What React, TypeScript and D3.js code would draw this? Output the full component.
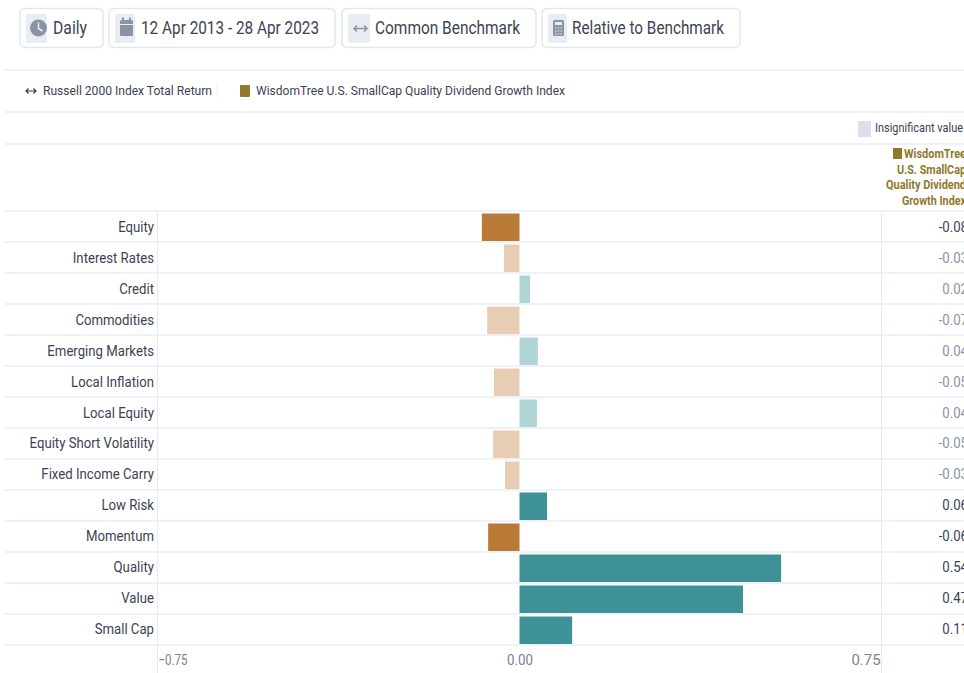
import React from "react";
import * as d3 from "d3";

const categories = ["Equity","Interest Rates","Credit","Commodities","Emerging Markets","Local Inflation","Local Equity","Equity Short Volatility","Fixed Income Carry","Low Risk","Momentum","Quality","Value","Small Cap"];
const barValues = [-0.078,-0.032,0.022,-0.067,0.038,-0.053,0.036,-0.055,-0.03,0.057,-0.065,0.542,0.463,0.109];
const valueLabels = ["-0.08","-0.03","0.02","-0.07","0.04","-0.05","0.04","-0.05","-0.03","0.06","-0.06","0.54","0.47","0.11"];
const significant = [true,false,false,false,false,false,false,false,false,true,true,true,true,true];
const axisTicks = [-0.75,0,0.75];
const toolbarLabels = ["Daily","12 Apr 2013 - 28 Apr 2023","Common Benchmark","Relative to Benchmark"];
const legendBenchmark = "Russell 2000 Index Total Return";
const legendIndex = "WisdomTree U.S. SmallCap Quality Dividend Growth Index";
const headerLines = ["WisdomTree","U.S. SmallCap","Quality Dividend","Growth Index"];

const FONT = "Roboto, sans-serif";
const LINE = "#eef1f7";
const GRID = "#e6eaf3";
const TEXT = "#3c4352";
const ICON_BG = "#e8ecf3";
const ICON = "#8b93a5";
const OLIVE = "#8d7a2c";
const SQUEEZE = 0.85;

function T({x,y,w,size,fill=TEXT,anchor="start",weight=400,children}:any){
  return <text x={x} y={y} textLength={w} lengthAdjust="spacingAndGlyphs" fontSize={size} fill={fill} textAnchor={anchor} fontWeight={weight} fontFamily={FONT}>{children}</text>;
}

function Chip({x,w,iconW,label,textX,textW,icon}:any){
  return <g>
    <rect x={x} y={8.5} width={w} height={39} rx={5} fill="#fff" stroke="#e1e6ef" strokeWidth={1.5}/>
    <rect x={x+6} y={14} width={iconW} height={29} rx={2} fill={ICON_BG}/>
    {icon}
    <T x={textX} y={34} w={textW} size={19}>{label}</T>
  </g>;
}

export default function App(){
  const x = d3.scaleLinear().domain([-0.75,0.75]).range([157.5,881.5]);
  const y = d3.scaleBand<string>().domain(categories).range([211,645]);
  const barPad = 2.5;
  const zero = x(0);
  const color = (v:number,s:boolean)=> s ? (v<0 ? "#b97a38" : "#3e9196") : (v<0 ? "#e8cdb5" : "#afd4d5");
  const rowLines = [...categories.map(c=>y(c)!),645];
  return (
    <svg width={964} height={673} viewBox="0 0 964 673" style={{position:"absolute",left:0,top:0,background:"#fff"}}>
      <Chip x={20} w={83} iconW={21} label={toolbarLabels[0]} textX={53} textW={34}
        icon={<g><circle cx={38.5} cy={28} r={8.5} fill={ICON}/><path d="M38.5 22.5V28.5L42.5 31" fill="none" stroke="#e8ecf3" strokeWidth={1.5}/></g>}/>
      <Chip x={109} w={226} iconW={20} label={toolbarLabels[1]} textX={141} textW={178}
        icon={<g><rect x={120} y={20} width={13} height={16} rx={1.5} fill={ICON}/><line x1={120} x2={133} y1={24.5} y2={24.5} stroke="#e8ecf3"/><line x1={123} x2={123} y1={17.5} y2={21} stroke={ICON} strokeWidth={2}/><line x1={130} x2={130} y1={17.5} y2={21} stroke={ICON} strokeWidth={2}/></g>}/>
      <Chip x={342} w={194} iconW={22} label={toolbarLabels[2]} textX={375} textW={145}
        icon={<path d="M354 28.5H367M357 25.5L354 28.5L357 31.5M364 25.5L367 28.5L364 31.5" fill="none" stroke={ICON} strokeWidth={1.5}/>}/>
      <Chip x={542} w={198} iconW={19} label={toolbarLabels[3]} textX={572} textW={152}
        icon={<g><rect x={553} y={20} width={11} height={16} rx={1.5} fill={ICON}/><rect x={555} y={22} width={7} height={3} fill="#e8ecf3"/><path d="M555 28H562M555 31H562M555 34H562" stroke="#e8ecf3" strokeDasharray="1.5 1.2"/></g>}/>

      <line x1={5} x2={964} y1={70} y2={70} stroke={LINE} strokeWidth={2}/>
      <path d="M26 91H36M28.5 88.5L26 91L28.5 93.5M33.5 88.5L36 91L33.5 93.5" fill="none" stroke="#333a48" strokeWidth={1.2}/>
      <T x={43} y={95} w={169} size={13.5}>{legendBenchmark}</T>
      <line x1={217} x2={217} y1={83} y2={99} stroke={LINE}/>
      <rect x={240} y={85} width={10} height={12} rx={1} fill={OLIVE}/>
      <T x={256} y={95} w={309} size={13.5}>{legendIndex}</T>
      <line x1={5} x2={964} y1={112} y2={112} stroke={LINE} strokeWidth={2}/>

      <rect x={858} y={121} width={13} height={16} fill="#d9e0ec"/>
      <T x={875} y={132} w={88} size={13}>Insignificant value</T>
      <line x1={5} x2={964} y1={144} y2={144} stroke={LINE} strokeWidth={2}/>

      <rect x={893} y={148} width={9} height={11} fill={OLIVE}/>
      {headerLines.map((l,i)=>(
        <text key={l} x={966} y={158+i*15.7} fontSize={12.5} fontWeight={700} fill={OLIVE} textAnchor="end" fontFamily={FONT} textLength={[62,69,80,64][i]} lengthAdjust="spacingAndGlyphs">{l}</text>
      ))}

      {rowLines.map((v,i)=><line key={i} x1={5} x2={964} y1={v} y2={v} stroke={LINE} strokeWidth={2}/>)}
      {[x(-0.75),x(0.75)].map((v,i)=><line key={i} x1={v} x2={v} y1={211} y2={673} stroke={GRID}/>)}

      {categories.map((c,i)=>{
        const v = barValues[i];
        const cy = y(c)!+y.bandwidth()/2;
        const s = significant[i];
        const ty = cy+5.5-(i/13);
        return <g key={c}>
          <rect x={Math.min(x(v),zero)} y={y(c)!+barPad} width={Math.abs(x(v)-zero)} height={y.bandwidth()-barPad-1} fill={color(v,s)}/>
          <text x={154/SQUEEZE} y={ty} fontSize={15.5} textAnchor="end" fill={TEXT} fontFamily={FONT} transform={`scale(${SQUEEZE},1)`}>{c}</text>
          <text x={968/SQUEEZE} y={ty} fontSize={15.5} textAnchor="end" fill={s?TEXT:"#8b92a0"} fontFamily={FONT} transform={`scale(${SQUEEZE},1)`}>{valueLabels[i]}</text>
        </g>;
      })}

      {axisTicks.map((t,i)=>(
        <text key={t} x={i===0?173:i===1?520:866} y={665} fontSize={14.5} textAnchor="middle" fill="#7b8292" fontFamily={FONT} textLength={i===1?26:29} lengthAdjust="spacingAndGlyphs">{d3.format(".2f")(t)}</text>
      ))}
    </svg>
  );
}
